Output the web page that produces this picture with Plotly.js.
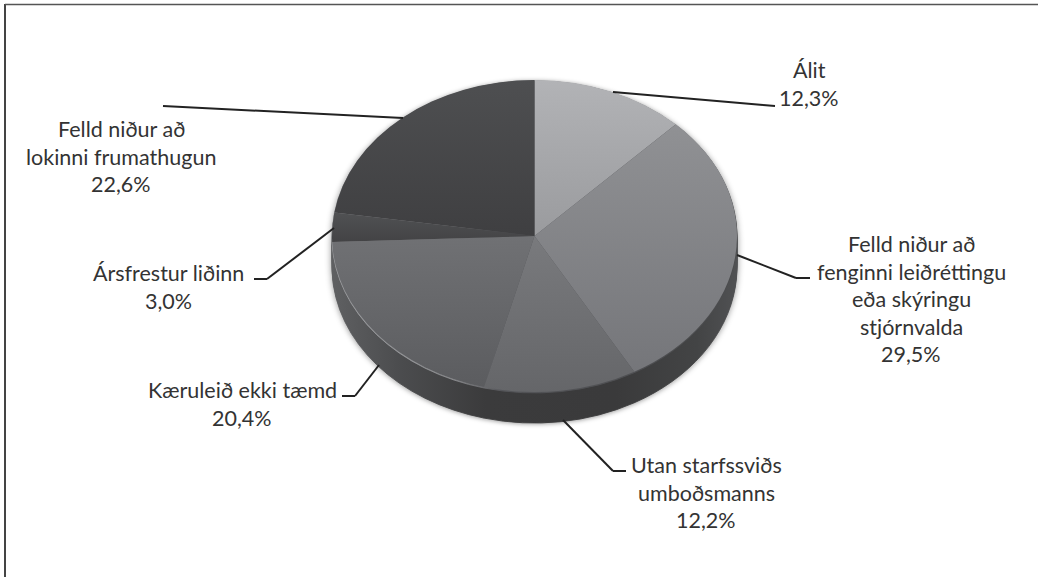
<!DOCTYPE html>
<html>
<head>
<meta charset="utf-8">
<script src="https://cdn.plot.ly/plotly-3.0.1.min.js"></script>
<style>html,body{margin:0;padding:0;background:#fff;overflow:hidden}#chart{width:1038px;height:577px}.annotation-text{font-variant-ligatures:none}</style>
</head>
<body>
<div id="chart"></div>
<script>
// Category shares in percent, clockwise from twelve o'clock
const categories = [
  'Álit',
  'Felld niður að<br>fenginni leiðréttingu<br>eða skýringu<br>stjórnvalda',
  'Utan starfssviðs<br>umboðsmanns',
  'Kæruleið ekki tæmd',
  'Ársfrestur liðinn',
  'Felld niður að<br>lokinni frumathugun'
];
const shares = [12.3, 29.5, 12.2, 20.4, 3.0, 22.6];

// Top and bottom shade of each slice's vertical gradient
const shadeTop = ['#b2b3b6', '#909194', '#797a7d', '#707174', '#505153', '#4e4f51'];
const shadeBottom = ['#9a9b9e', '#75767a', '#656669', '#5b5c5f', '#434345', '#3f3f41'];

// Centre of each data label and the y of its first line
const labelX = [809, 911, 706, 242, 168, 121];
const labelY = [70, 244, 465, 390, 273, 129];
const lineGap = 27.6;

// Leader lines as [x, y] pixel runs
const leaders = [
  [[613, 92], [763, 105], [775, 106]],
  [[737, 255], [796, 278], [810, 278]],
  [[563, 420], [613, 471], [626, 471]],
  [[379, 365], [355, 396], [342, 396]],
  [[334, 228], [267, 279], [254, 279]],
  [[163, 106], [403, 118]]
];

const W = 1038, H = 577;
const cx = 534.5, cy = 236, rx = 202.5, ry = 156, depth = 31;
const squash = ry / rx;
const px = x => x / W;
const py = y => 1 - y / H;

// One round pie at a given downward offset; the layer is flattened into an ellipse afterwards
function disc(offset, colors) {
  const shift = offset / squash;
  return {
    type: 'pie', sort: false, direction: 'clockwise', rotation: 0,
    values: shares, labels: categories, textinfo: 'none', hoverinfo: 'skip', showlegend: false,
    marker: {colors: colors, line: {width: 0}},
    domain: {
      x: [px(cx - rx), px(cx + rx)],
      y: [py(cy + rx + shift), py(cy - rx + shift)]
    }
  };
}

const wallOffsets = [31, 29, 27, 25, 23, 21, 19, 17, 15, 13, 11, 9, 7, 5, 3];
const wallColors = shares.map(() => '#3c3c3d');
const traces = wallOffsets.map(d => disc(d, wallColors));
traces.push(disc(0.9, wallColors));
traces.push(disc(0, shadeTop));

const shapes = [
  {type: 'line', xref: 'paper', yref: 'paper', x0: px(5), x1: px(5), y0: 0, y1: py(4), line: {color: '#444', width: 2}},
  {type: 'line', xref: 'paper', yref: 'paper', x0: px(5), x1: 1, y0: py(4.5), y1: py(4.5), line: {color: '#555', width: 1.6}}
];
leaders.forEach(run => {
  for (let i = 0; i < run.length - 1; i++) {
    shapes.push({
      type: 'line', xref: 'paper', yref: 'paper',
      x0: px(run[i][0]), y0: py(run[i][1]), x1: px(run[i + 1][0]), y1: py(run[i + 1][1]),
      line: {color: '#222', width: 2}
    });
  }
});

// Each text line is placed on its own so the line pitch can be set freely
const annotations = [];
categories.forEach((name, i) => {
  const lines = name.split('<br>').concat(shares[i].toFixed(1).replace('.', ',') + '%');
  lines.forEach((line, j) => {
    annotations.push({
      xref: 'paper', yref: 'paper', x: px(labelX[i]), y: py(labelY[i] + j * lineGap),
      xanchor: 'center', yanchor: 'middle', showarrow: false, text: line,
      font: {family: 'Lato, sans-serif', size: 21.5, color: '#333'}
    });
  });
});

const layout = {
  width: W, height: H, margin: {l: 0, r: 0, t: 0, b: 0},
  paper_bgcolor: '#fff', plot_bgcolor: '#fff', showlegend: false,
  shapes: shapes, annotations: annotations
};

Plotly.newPlot('chart', traces, layout, {staticPlot: true, displayModeBar: false}).then(gd => {
  const NS = 'http://www.w3.org/2000/svg';
  const svg = gd.querySelector('.main-svg');
  const defs = svg.querySelector('defs') || svg.insertBefore(document.createElementNS(NS, 'defs'), svg.firstChild);

  function gradient(id, attrs, stops) {
    const g = document.createElementNS(NS, 'linearGradient');
    g.setAttribute('id', id);
    Object.keys(attrs).forEach(k => g.setAttribute(k, attrs[k]));
    stops.forEach(s => {
      const st = document.createElementNS(NS, 'stop');
      st.setAttribute('offset', s[0]);
      st.setAttribute('stop-color', s[1]);
      g.appendChild(st);
    });
    defs.appendChild(g);
    return 'url(#' + id + ')';
  }

  // Side wall: lit towards both ends, darkest near the front
  const span = {gradientUnits: 'userSpaceOnUse', x1: cx - rx, x2: cx + rx, y1: 0, y2: 0};
  const wall = gradient('wallShade', span, [[0, '#5f6062'], [0.17, '#4b4c4e'], [0.38, '#3b3b3c'], [0.7, '#3a3a3b'], [0.9, '#434445'], [1, '#505153']]);
  const rim = gradient('rimShade', span, [[0, '#a0a1a4'], [0.3, '#8d8e91'], [0.42, '#55565a'], [1, '#4a4b4d']]);

  const layers = gd.querySelectorAll('.pielayer .trace');
  layers.forEach((layer, n) => {
    const paths = layer.querySelectorAll('.slice path.surface');
    paths.forEach((p, i) => {
      if (n === layers.length - 1) {
        const id = 'sliceShade' + i;
        p.style.fill = gradient(id, {x1: 0, x2: 0, y1: 0, y2: 1}, [[0, shadeTop[i]], [1, shadeBottom[i]]]);
      } else {
        const fill = n === layers.length - 2 ? rim : wall;
        p.style.fill = fill;
        p.style.stroke = fill;
        p.style.strokeWidth = '1px';
      }
    });
  });

  // Flatten the discs into ellipses around the face centre and cast a soft shadow
  const pieLayer = gd.querySelector('.pielayer');
  pieLayer.setAttribute('transform', 'translate(0,' + cy * (1 - squash) + ') scale(1,' + squash + ')');
  pieLayer.style.filter = 'drop-shadow(0 1px 3px rgba(0,0,0,0.4))';
});
</script>
</body>
</html>
